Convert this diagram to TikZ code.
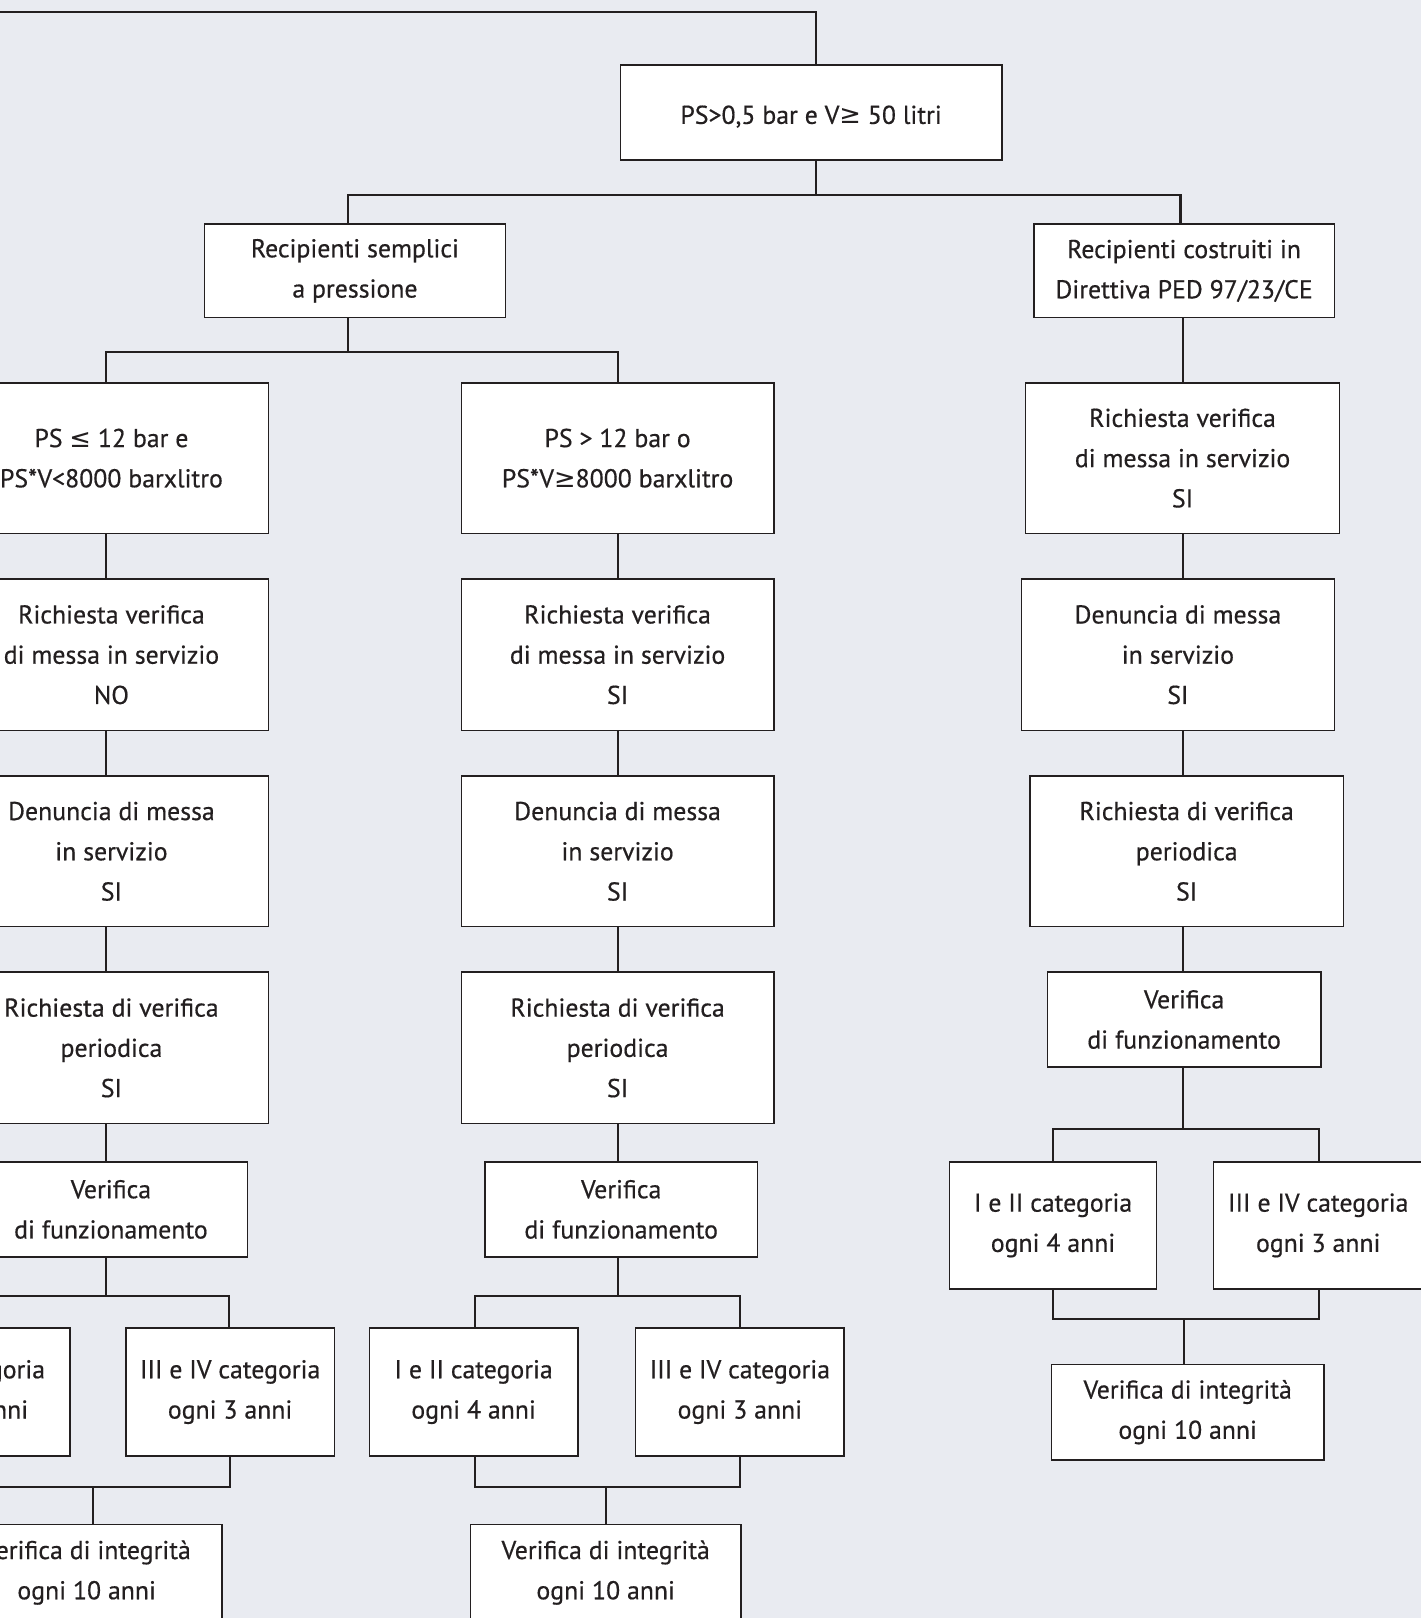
\documentclass[tikz,border=0pt]{standalone}
\usepackage{fontspec}
\setmainfont{PT Sans}[FakeBold=0.5]
\newfontfamily\symf{DejaVu Sans}
\definecolor{bg}{RGB}{233,235,241}
\definecolor{ink}{RGB}{35,31,32}
\begin{document}
\begin{tikzpicture}[x=1pt,y=-1pt,
  box/.style={draw=ink, line width=1.3pt, fill=white, inner sep=0pt, align=center,
    text=ink, font=\fontsize{25}{39}\selectfont},
  wh/.style 2 args={minimum width=#1pt, minimum height=#2pt},
  conn/.style={draw=ink, line width=2pt, line join=miter}]
\useasboundingbox (0,0) rectangle (1377,1568);
\fill[bg] (0,0) rectangle (1377,1568);
\clip (0,0) rectangle (1377,1568);

% top levels
\node[box, wh={370}{92}] (top) at (786,109) {\raisebox{-4pt}[\height][\depth]{PS>0,5 bar e V\smash{\symf ≥} 50 litri}};
\node[box, wh={292}{91}] (rs) at (344,262.5) {Recipienti semplici\\a pressione};
\node[box, wh={291}{91}] (rc) at (1147.5,262.5) {Recipienti costruiti in\\Direttiva PED 97/23/CE};

% column A
\node[box, wh={304}{146}] (a1) at (108,444) {PS \smash{\symf ≤} 12 bar e\\PS*V<8000 barxlitro};
\node[box, wh={304}{147}] (a2) at (108,634.5) {Richiesta verifica\\di messa in servizio\\NO};
\node[box, wh={304}{146}] (a3) at (108,825) {Denuncia di messa\\in servizio\\SI};
\node[box, wh={304}{147}] (a4) at (108,1015.5) {Richiesta di verifica\\periodica\\SI};
\node[box, wh={265}{92}] (a5) at (107.5,1172) {Verifica\\di funzionamento};
\node[box, wh={202}{124}] (a6a) at (-33,1349) {I e II categoria\\ogni 4 anni};
\node[box, wh={202}{124}] (a6b) at (223,1349) {III e IV categoria\\ogni 3 anni};
\node[box, wh={262}{93}] (a7) at (84,1524) {Verifica di integrità\\ogni 10 anni};

% column B
\node[box, wh={303}{146}] (b1) at (598.5,444) {PS > 12 bar o\\PS*V\smash{\symf ≥}8000 barxlitro};
\node[box, wh={303}{147}] (b2) at (598.5,634.5) {Richiesta verifica\\di messa in servizio\\SI};
\node[box, wh={303}{146}] (b3) at (598.5,825) {Denuncia di messa\\in servizio\\SI};
\node[box, wh={303}{147}] (b4) at (598.5,1015.5) {Richiesta di verifica\\periodica\\SI};
\node[box, wh={264}{92}] (b5) at (602,1172) {Verifica\\di funzionamento};
\node[box, wh={202}{124}] (b6a) at (459,1349) {I e II categoria\\ogni 4 anni};
\node[box, wh={202}{124}] (b6b) at (717,1349) {III e IV categoria\\ogni 3 anni};
\node[box, wh={262}{93}] (b7) at (587,1524) {Verifica di integrità\\ogni 10 anni};

% column C
\node[box, wh={304}{146}] (c1) at (1146,444) {Richiesta verifica\\di messa in servizio\\SI};
\node[box, wh={303}{147}] (c2) at (1141.5,634.5) {Denuncia di messa\\in servizio\\SI};
\node[box, wh={304}{146}] (c3) at (1150,825) {Richiesta di verifica\\periodica\\SI};
\node[box, wh={265}{92}] (c4) at (1147.5,988) {Verifica\\di funzionamento};
\node[box, wh={201}{123}] (c5a) at (1020.5,1187.5) {I e II categoria\\ogni 4 anni};
\node[box, wh={203}{123}] (c5b) at (1277.5,1187.5) {III e IV categoria\\ogni 3 anni};
\node[box, wh={264}{93}] (c6) at (1151,1368.5) {Verifica di integrità\\ogni 10 anni};

% connectors: top
\coordinate (tl) at (0,12);
\draw[conn] (tl) -- (791,12) -- (top.north -| 791,0);
\draw[conn] (top.south -| 791,0) -- (791,189);
\draw[conn] (rs.north -| 337,0) -- (337,189) -- (1144,189) -- (rc.north -| 1144,0);
\draw[conn] (rs.south -| 337,0) -- (337,341);
\draw[conn] (a1.north -| 103,0) -- (103,341) -- (599,341) -- (b1.north -| 599,0);
\draw[conn] (rc.south -| 1146,0) -- (c1.north -| 1146,0);

% column A
\draw[conn] (a1.south -| 103,0) -- (a2.north -| 103,0);
\draw[conn] (a2.south -| 103,0) -- (a3.north -| 103,0);
\draw[conn] (a3.south -| 103,0) -- (a4.north -| 103,0);
\draw[conn] (a4.south -| 103,0) -- (a5.north -| 103,0);
\draw[conn] (a5.south -| 103,0) -- (103,1256);
\draw[conn] (a6a.north -| -33,0) -- (-33,1256) -- (222,1256) -- (a6b.north -| 222,0);
\draw[conn] (a6a.south -| -33,0) -- (-33,1441) -- (223,1441) -- (a6b.south -| 223,0);
\draw[conn] (90,1441) -- (a7.north -| 90,0);

% column B
\draw[conn] (b1.south -| 599,0) -- (b2.north -| 599,0);
\draw[conn] (b2.south -| 599,0) -- (b3.north -| 599,0);
\draw[conn] (b3.south -| 599,0) -- (b4.north -| 599,0);
\draw[conn] (b4.south -| 599,0) -- (b5.north -| 599,0);
\draw[conn] (b5.south -| 599,0) -- (599,1256);
\draw[conn] (b6a.north -| 460,0) -- (460,1256) -- (717,1256) -- (b6b.north -| 717,0);
\draw[conn] (b6a.south -| 460,0) -- (460,1441) -- (717,1441) -- (b6b.south -| 717,0);
\draw[conn] (587,1441) -- (b7.north -| 587,0);

% column C
\draw[conn] (c1.south -| 1146,0) -- (c2.north -| 1146,0);
\draw[conn] (c2.south -| 1146,0) -- (c3.north -| 1146,0);
\draw[conn] (c3.south -| 1146,0) -- (c4.north -| 1146,0);
\draw[conn] (c4.south -| 1146,0) -- (1146,1094);
\draw[conn] (c5a.north -| 1020,0) -- (1020,1094) -- (1278,1094) -- (c5b.north -| 1278,0);
\draw[conn] (c5a.south -| 1020,0) -- (1020,1278) -- (1278,1278) -- (c5b.south -| 1278,0);
\draw[conn] (1147,1278) -- (c6.north -| 1147,0);
\end{tikzpicture}
\end{document}
